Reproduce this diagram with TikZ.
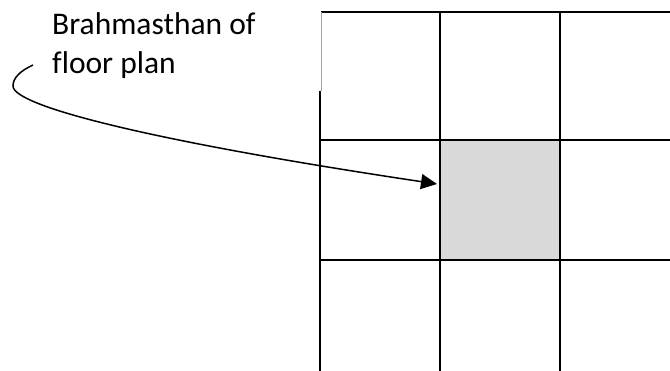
\documentclass[tikz,border=0pt]{standalone}
\usepackage{fontspec}
\setmainfont{Carlito}[Ligatures=NoCommon]
\usetikzlibrary{arrows.meta,positioning}
\definecolor{cellgray}{RGB}{217,217,217}

\begin{document}
\begin{tikzpicture}[x=1pt, y=1pt,
  every node/.style={font=\fontsize{31.5}{39}\selectfont},
  gridline/.style={line width=1.5pt},
  cell/.style={draw, line width=1.5pt, fill=cellgray, minimum width=120pt, minimum height=120pt, inner sep=0pt},
  pointer/.style={line width=1.5pt, -{Triangle[length=16pt,width=15pt]}}
]
\useasboundingbox (0,0) rectangle (670,371);

% Grid of the floor plan
\draw[gridline] (321,359) -- (670,359);
\draw[gridline] (320,231) -- (670,231);
\draw[gridline] (320,111) -- (670,111);
\draw[gray!70, line width=0.8pt] (321,359) -- (321,280);
\draw[gridline] (320,280) -- (320,0);
\draw[gridline] (440,359) -- (440,0);
\draw[gridline] (560,359) -- (560,0);

% Central square
\node[cell] (brahma) at (500,171) {};

% Label and pointer
\node[align=left, anchor=base west, inner sep=0pt] (label) at (52,297) {Brahmasthan of\\floor plan};
\coordinate (tail) at (33,306);
\coordinate (tip) at (437,187);
\draw[pointer] (tail) .. controls (20,300) and (13,293) .. (13,285)
  .. controls (13,265) and (150,230) .. (tip);

\end{tikzpicture}
\end{document}
